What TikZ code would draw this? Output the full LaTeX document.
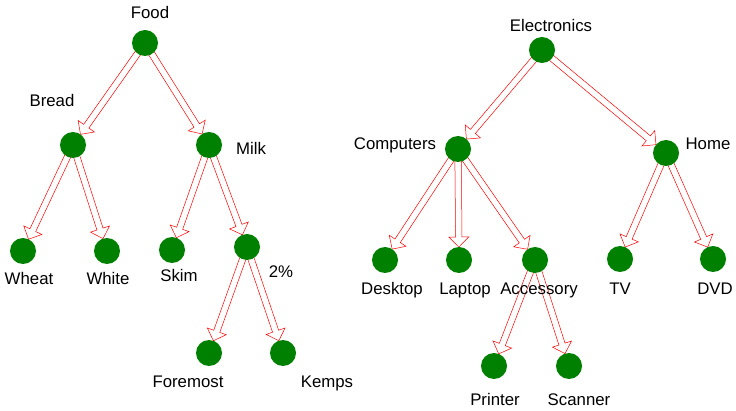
\documentclass[tikz,border=0pt]{standalone}
\usepackage{fontspec}
\setmainfont{Liberation Sans}
\usetikzlibrary{calc,backgrounds}
\tikzset{
  vertex/.style={circle,fill=green!50!black,minimum size=26pt,inner sep=0pt},
  lbl/.style={anchor=base,inner sep=0pt,font=\fontsize{16.8}{20}\selectfont},
  harr/.style={draw=red,fill=white,line width=0.5pt}
}
% hollow block arrow from the centre of #1 to the rim of #2
\newcommand\harrow[2]{%
  \coordinate (tip) at ($(#2.center)!13pt!(#1.center)$);
  \coordinate (hb) at ($(tip)!10pt!(#1.center)$);
  \draw[harr]($(#1.center)!3.2pt!90:(tip)$)--($(hb)!3.2pt!90:(tip)$)--($(hb)!10pt!90:(tip)$)--(tip)
    --($(hb)!10pt!-90:(tip)$)--($(hb)!3.2pt!-90:(tip)$)--($(#1.center)!3.2pt!-90:(tip)$)--cycle;
}
\begin{document}
\begin{tikzpicture}[x=1pt,y=-1pt]
\useasboundingbox(0,0)rectangle(736,411);
\foreach \n/\x/\y in {food/145/43,bread/73/145,milk/209/145,wheat/23/251,white/107/251,
  skim/172/250,twopct/247/247,foremost/209/353,kemps/283/353,
  elec/542/50,comp/458/149,home/666/153,desktop/385/260,laptop/459/260,access/535/260,
  tv/620/259,dvd/713/259,printer/494/366,scanner/569/366}
  {\node[vertex](\n)at(\x,\y){};}
\begin{scope}[on background layer]
\foreach \a/\b in {food/bread,food/milk,bread/wheat,bread/white,milk/skim,milk/twopct,
  twopct/foremost,twopct/kemps,elec/comp,elec/home,comp/desktop,comp/laptop,comp/access,
  access/printer,access/scanner,home/tv,home/dvd}
  {\harrow{\a}{\b}}
\end{scope}
\foreach \n/\x/\y/\t in {food/150/19/Food,bread/52/107/Bread,milk/251/155/Milk,
  wheat/29/285/Wheat,white/108/285/White,skim/179/282/Skim,twopct/281/278/2\%,
  foremost/188/388/Foremost,kemps/327/388/Kemps,elec/551/31.5/Electronics,
  comp/395/150/Computers,home/708/150/Home,desktop/392/295/Desktop,laptop/465/295/Laptop,
  access/539/295/Accessory,tv/620/295/TV,dvd/715/295/DVD,printer/495/405/Printer,
  scanner/579/405/Scanner}
  {\node[lbl](\n-l)at(\x,\y){\t};}
\end{tikzpicture}
\end{document}
